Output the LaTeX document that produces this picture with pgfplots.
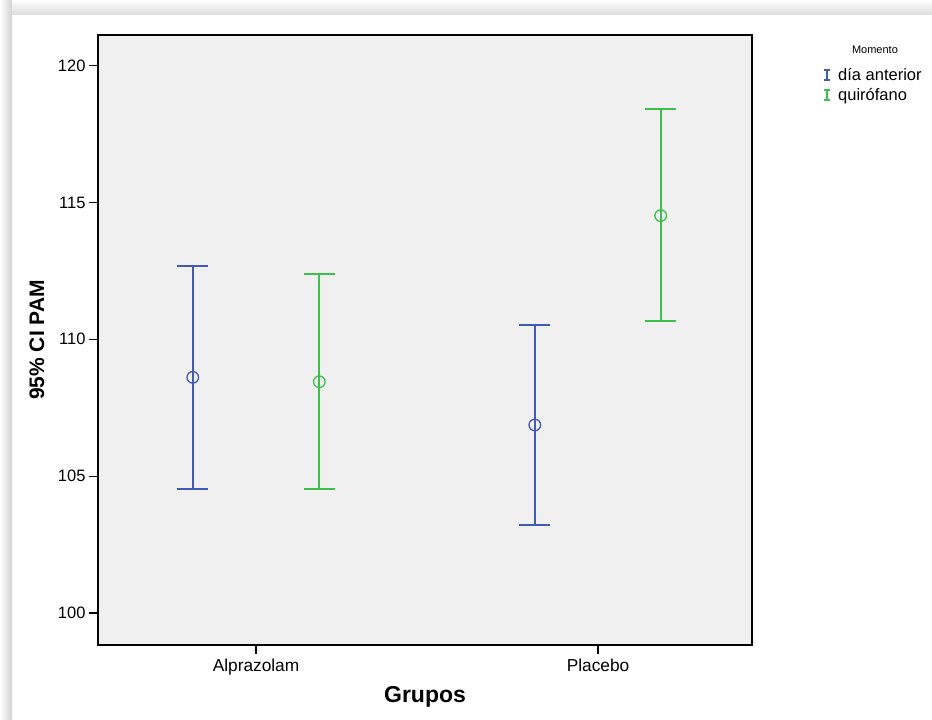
\documentclass[border=0pt]{standalone}
\usepackage{pgfplots}
\pgfplotsset{compat=1.18}
\usepackage{fontspec}
\setmainfont{Liberation Sans}
\definecolor{spssblue}{RGB}{66,90,178}
\definecolor{spssgreen}{RGB}{62,190,76}
\definecolor{panel}{RGB}{240,240,240}
\begin{document}
\begin{tikzpicture}[x=1pt,y=1pt]
\fill[white] (0,0) rectangle (932,720);
\shade[left color=white, right color=black!18] (0,0) rectangle (12,720);
\shade[top color=white, bottom color=black!14] (12,705) rectangle (932,720);
\begin{axis}[
  at={(98pt,75pt)}, anchor=south west,
  scale only axis, width=654pt, height=610pt,
  xmin=-0.462, xmax=1.450,
  ymin=98.83, ymax=121.12,
  axis background/.style={fill=panel},
  axis line style={black, line width=1.2pt},
  xtick={0,1}, xticklabels={Alprazolam,Placebo},
  ytick={100,105,110,115,120},
  tick align=outside, major tick length=9pt,
  tick style={black, line width=1.2pt},
  xtick pos=bottom, ytick pos=left,
  /pgf/number format/assume math mode=true,
  tick label style={font=\fontsize{16.5}{18}\selectfont},
  xticklabel style={yshift=-1pt, font=\fontsize{17.3}{19}\selectfont},
  xlabel={\textbf{Grupos}},
  xlabel style={font=\fontsize{23}{26}\selectfont, at={(axis description cs:0.5,-0.085)}, anchor=center},
  ylabel={\textbf{95\% CI PAM}},
  ylabel style={font=\fontsize{21}{23}\selectfont, at={(axis description cs:-0.0935,0.5)}, anchor=center},
  clip=false,
  legend style={at={(axis description cs:1.104,0.949)}, anchor=north west,
    draw=none, fill=none, font=\fontsize{16.5}{18}\selectfont, inner sep=0pt,
    row sep=2.5pt, cells={anchor=west}},
  legend cell align=left,
]
\addlegendimage{legend image code/.code={\path[draw=none,fill=none] (0pt,0pt) -- (16pt,0pt); \draw[spssblue, line width=2pt] (7pt,-5pt)--(7pt,5pt) (4pt,5pt)--(10pt,5pt) (4pt,-5pt)--(10pt,-5pt);}}
\addlegendentry{día anterior}
\addlegendimage{legend image code/.code={\path[draw=none,fill=none] (0pt,0pt) -- (16pt,0pt); \draw[spssgreen, line width=2pt] (7pt,-5pt)--(7pt,5pt) (4pt,5pt)--(10pt,5pt) (4pt,-5pt)--(10pt,-5pt);}}
\addlegendentry{quirófano}

\addplot[forget plot, spssblue, only marks, mark=o, mark size=5.8pt,
  mark options={line width=1.3pt},
  error bars/.cd, y dir=both, y explicit,
  error bar style={line width=2pt, draw=spssblue},
  error mark options={rotate=90, mark size=15.5pt, line width=2pt, draw=spssblue}]
  table[x=x, y=y, y error plus=ep, y error minus=em] {
x y ep em
-0.185 108.61 4.08 4.07
0.815 106.87 3.64 3.65
};
\addplot[forget plot, spssgreen, only marks, mark=o, mark size=5.8pt,
  mark options={line width=1.3pt},
  error bars/.cd, y dir=both, y explicit,
  error bar style={line width=1.8pt, draw=spssgreen},
  error mark options={rotate=90, mark size=15.5pt, line width=1.8pt, draw=spssgreen}]
  table[x=x, y=y, y error plus=ep, y error minus=em] {
x y ep em
0.185 108.45 3.95 3.93
1.183 114.52 3.89 3.85
};
\node[font=\fontsize{11}{12}\selectfont, anchor=center] at (axis description cs:1.188,0.975) {Momento};
\end{axis}
\end{tikzpicture}
\end{document}
